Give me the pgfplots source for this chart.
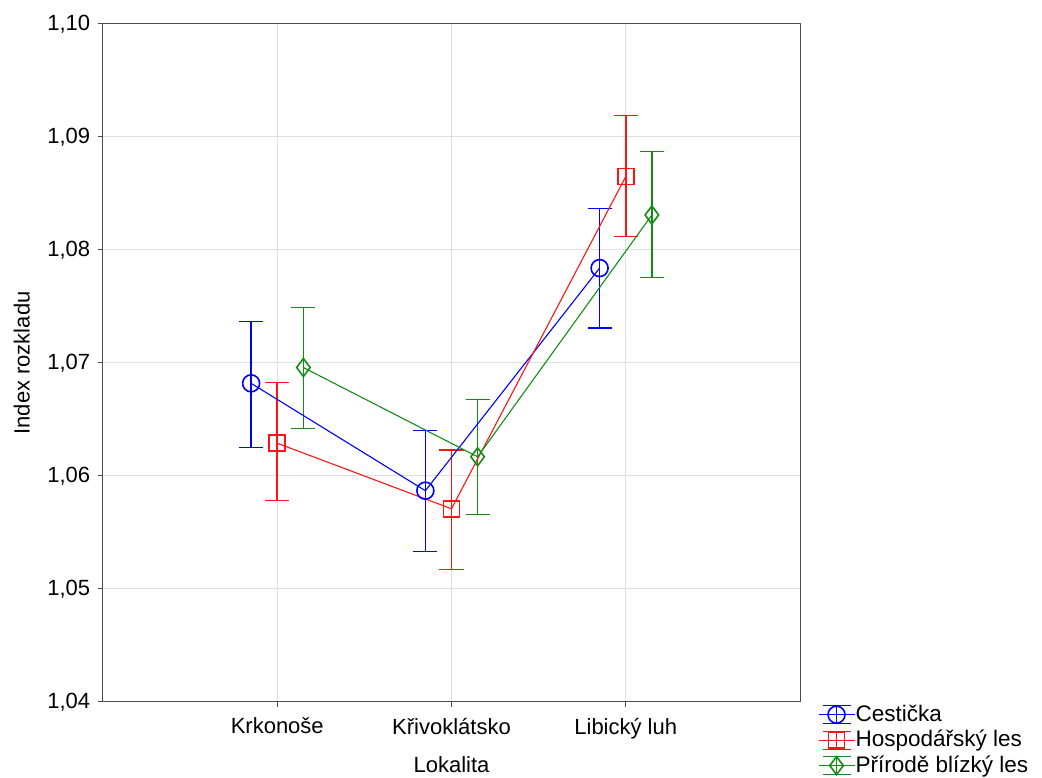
\documentclass[border=0pt]{standalone}
\usepackage{pgfplots}
\pgfplotsset{compat=1.18}
\usepackage{fontspec}
\setmainfont{Liberation Sans}
\definecolor{cb}{RGB}{0,0,255}
\definecolor{cr}{RGB}{255,20,20}
\definecolor{cg}{RGB}{20,140,20}
\pgfplotstableread{
x y
0.85 1.0682
1.85 1.0587
2.85 1.0784
}\cest
\pgfplotstableread{
x y
1.00 1.0629
2.00 1.0571
3.00 1.0865
}\hosp
\pgfplotstableread{
x y
1.15 1.0696
2.15 1.0617
3.15 1.0831
}\prir
\begin{document}
\fontsize{23}{26}\selectfont
\begin{tikzpicture}
\begin{axis}[name=ax,
  scale only axis, width=697pt, height=678pt,
  xmin=0, xmax=4, ymin=1.04, ymax=1.10,
  unbounded coords=jump,
  xtick={1,2,3}, xticklabels={Krkonoše,Křivoklátsko,Libický luh},
  ytick={1.04,1.05,1.06,1.07,1.08,1.09,1.10},
  yticklabel style={/pgf/number format/.cd,fixed,fixed zerofill,precision=2,use comma},
  /pgf/number format/assume math mode=true,
  tick label style={font=\fontsize{22}{25}\selectfont},
  x tick label style={yshift=-3pt},
  label style={font=\fontsize{22}{25}\selectfont},
  xlabel={Lokalita}, ylabel={Index rozkladu},
  xlabel style={yshift=-2pt},
  ylabel style={yshift=2pt},
  grid=major, major grid style={gray!25, line width=1pt},
  axis line style={black!70, line width=1pt},
  tick pos=left, tick align=outside, major tick length=5pt,
  tick style={black!70, line width=1pt},
  legend style={at={(1.0255,-0.003)}, anchor=north west, draw=none, fill=none,
    font=\fontsize{22.5}{25}\selectfont, row sep=4.5pt, inner sep=0pt,
    nodes={inner sep=0.5pt, xshift=4pt}},
  legend cell align=left,
  legend image code/.code={
    \draw[#1,mark=none] (0pt,0pt)--(36pt,0pt);
    \draw[#1,mark=none] (4pt,9pt)--(32pt,9pt);
    \draw[#1,mark=none] (4pt,-9pt)--(32pt,-9pt);
    \draw[#1,mark=none,line width=1.5pt] (18pt,-9pt)--(18pt,9pt);
    \draw[#1,only marks] plot coordinates {(18pt,0pt)};
  },
]
% vertical error bars
\addplot[draw=cb, line width=1.5pt, mark=none, forget plot] coordinates {
(0.85,1.0625) (0.85,1.0737) (0.85,nan)
(1.85,1.0533) (1.85,1.0640) (1.85,nan)
(2.85,1.0731) (2.85,1.0837)
};
\addplot[draw=cr, line width=1.5pt, mark=none, forget plot] coordinates {
(1.00,1.0578) (1.00,1.0683) (1.00,nan)
(2.00,1.0517) (2.00,1.0623) (2.00,nan)
(3.00,1.0812) (3.00,1.0919)
};
\addplot[draw=cg, line width=1.5pt, mark=none, forget plot] coordinates {
(1.15,1.0642) (1.15,1.0749) (1.15,nan)
(2.15,1.0566) (2.15,1.0668) (2.15,nan)
(3.15,1.0776) (3.15,1.0887)
};
% caps
\addplot[draw=cb, line width=1.1pt, mark=none, forget plot] coordinates {
(0.781,1.0737) (0.919,1.0737) (0.85,nan)
(0.781,1.0625) (0.919,1.0625) (0.85,nan)
(1.781,1.0640) (1.919,1.0640) (1.85,nan)
(1.781,1.0533) (1.919,1.0533) (1.85,nan)
(2.781,1.0837) (2.919,1.0837) (2.85,nan)
(2.781,1.0731) (2.919,1.0731)
};
\addplot[draw=cr, line width=1.1pt, mark=none, forget plot] coordinates {
(0.931,1.0683) (1.069,1.0683) (1.00,nan)
(0.931,1.0578) (1.069,1.0578) (1.00,nan)
(1.931,1.0623) (2.069,1.0623) (2.00,nan)
(1.931,1.0517) (2.069,1.0517) (2.00,nan)
(2.931,1.0919) (3.069,1.0919) (3.00,nan)
(2.931,1.0812) (3.069,1.0812)
};
\addplot[draw=cg, line width=1.1pt, mark=none, forget plot] coordinates {
(1.081,1.0749) (1.219,1.0749) (1.15,nan)
(1.081,1.0642) (1.219,1.0642) (1.15,nan)
(2.081,1.0668) (2.219,1.0668) (2.15,nan)
(2.081,1.0566) (2.219,1.0566) (2.15,nan)
(3.081,1.0887) (3.219,1.0887) (3.15,nan)
(3.081,1.0776) (3.219,1.0776)
};
\addplot[cb, line width=1.1pt, mark=o, mark size=8.5pt, mark options={line width=1.6pt}]
  table[x=x,y=y]{\cest};
\addlegendentry{Cestička}
\addplot[cr, line width=1.1pt, mark=square, mark size=8pt, mark options={line width=1.6pt}]
  table[x=x,y=y]{\hosp};
\addlegendentry{Hospodářský les}
\addplot[cg, line width=1.1pt, mark=diamond, mark size=9pt, mark options={line width=1.6pt}]
  table[x=x,y=y]{\prir};
\addlegendentry{Přírodě blízký les}
\end{axis}
\pgfresetboundingbox
\path[use as bounding box] (ax.south west) ++(-103pt,-76pt) rectangle ++(1042pt,778pt);
\end{tikzpicture}
\end{document}
